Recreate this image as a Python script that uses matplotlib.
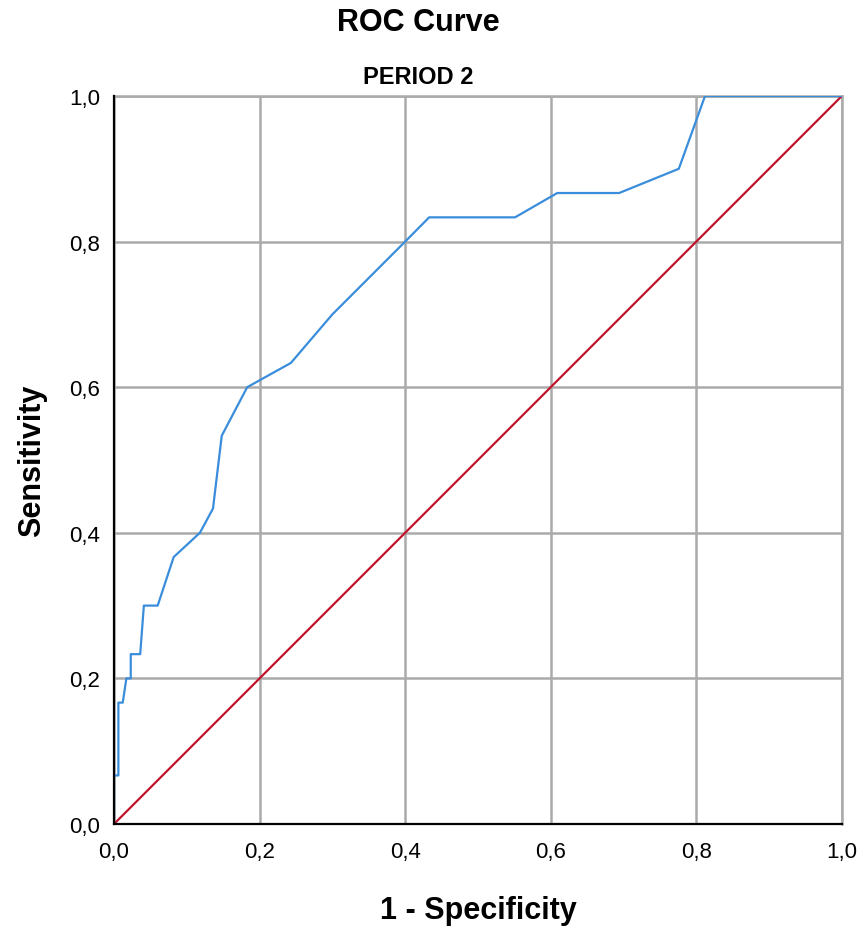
import matplotlib.pyplot as plt

# ROC points (1 - specificity, sensitivity)
fpr = [0.0, 0.0, 0.006, 0.006, 0.012, 0.017, 0.023, 0.023, 0.036, 0.041, 0.060,
       0.082, 0.118, 0.136, 0.148, 0.183, 0.243, 0.300, 0.400, 0.433, 0.551,
       0.609, 0.694, 0.776, 0.812, 1.0]
tpr = [0.0, 0.0667, 0.0667, 0.1667, 0.1667, 0.2, 0.2, 0.2333, 0.2333, 0.3, 0.3,
       0.3667, 0.4, 0.4333, 0.5333, 0.6, 0.6333, 0.7, 0.8, 0.8333, 0.8333,
       0.8667, 0.8667, 0.9, 1.0, 1.0]
ref = [0.0, 1.0]
ticks = [0.0, 0.2, 0.4, 0.6, 0.8, 1.0]
tick_labels = ['0,0', '0,2', '0,4', '0,6', '0,8', '1,0']

plt.rcParams['font.family'] = ['Liberation Sans', 'DejaVu Sans']

fig = plt.figure(figsize=(8.67, 9.28), dpi=100)
ax = fig.add_axes([0.1315, 0.111, 0.8395, 0.7845])

ax.plot(ref, ref, color='#C0142C', lw=1.6, zorder=3)
ax.plot(fpr, tpr, color='#3A8DDB', lw=1.6, zorder=4)

ax.set_xlim(0, 1)
ax.set_ylim(0, 1)
ax.set_xticks(ticks)
ax.set_xticklabels(tick_labels)
ax.set_yticks(ticks)
ax.set_yticklabels(tick_labels)
ax.tick_params(axis='x', length=0, labelsize=16, pad=12)
ax.tick_params(axis='y', length=0, labelsize=16, pad=10)
ax.grid(True, color='#AAAAAA', lw=1.8)
ax.set_axisbelow(True)
for s in ['top', 'right']:
    ax.spines[s].set_color('#AAAAAA')
    ax.spines[s].set_linewidth(1.8)
for s in ['left', 'bottom']:
    ax.spines[s].set_color('black')
    ax.spines[s].set_linewidth(1.6)
ax.spines['left'].set_zorder(5)
ax.spines['bottom'].set_zorder(5)

ax.set_xlabel('1 - Specificity', fontsize=22, fontweight='bold', labelpad=24)
ax.set_ylabel('Sensitivity', fontsize=22, fontweight='bold', labelpad=16)

fig.text(418/867, 1 - 23/928, 'ROC Curve', fontsize=22, fontweight='bold',
         ha='center', va='center')
fig.text(418/867, 1 - 77/928, 'PERIOD 2', fontsize=17, fontweight='bold',
         ha='center', va='center')

fig.savefig('out.png', dpi=100)
